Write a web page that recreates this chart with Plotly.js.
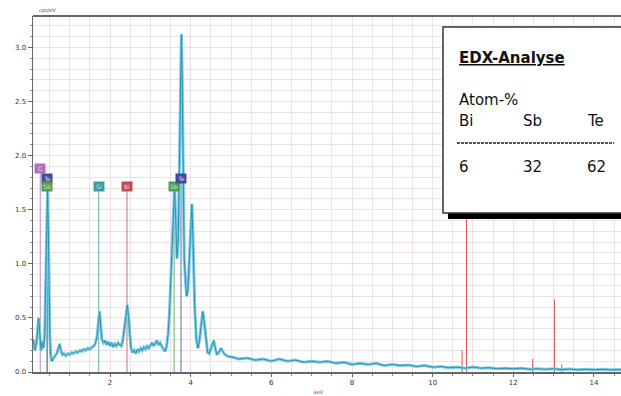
<!DOCTYPE html>
<html><head><meta charset="utf-8">
<script src="https://cdn.plot.ly/plotly-3.0.1.min.js"></script>
<style>html,body{margin:0;padding:0;background:#fff}#chart{width:621px;height:396px}</style>
</head><body><div id="chart"></div>
<script>
// Spectrum (keV, cps/eV)
const energy = [0.10,0.14,0.18,0.20,0.23,0.26,0.29,0.32,0.35,0.38,0.41,0.43,0.45,0.47,0.49,0.51,0.53,0.56,0.60,0.64,0.68,0.72,0.75,0.78,0.82,0.86,0.90,0.95,1.00,
1.05,1.10,1.15,1.20,1.25,1.30,1.35,1.40,1.45,1.50,1.55,1.60,1.64,1.68,1.71,1.74,1.77,1.80,1.84,1.88,1.92,1.96,2.00,2.04,2.08,2.12,2.16,2.20,2.24,2.28,2.32,2.36,2.40,2.43,2.46,2.49,2.52,2.56,2.60,2.64,2.68,2.72,2.76,2.80,2.84,2.88,2.92,2.96,3.00,3.04,3.08,3.12,3.16,3.20,3.24,3.28,3.32,3.36,3.40,3.44,3.48,3.52,3.56,3.60,3.63,3.66,3.69,3.72,3.75,3.77,3.79,3.82,3.84,3.87,3.90,3.93,3.96,4.00,4.03,4.06,4.10,4.14,4.18,4.22,4.26,4.30,4.34,4.38,4.42,4.46,4.50,4.54,4.57,4.61,4.65,4.70,4.75,4.80,4.85,4.90,4.95,
5.0,5.2,5.4,5.6,5.8,6.0,6.2,6.4,6.6,6.8,7.0,7.2,7.4,7.6,7.8,8.0,8.2,8.4,8.6,8.8,9.0,9.2,9.4,9.6,9.8,10.0,10.2,10.4,10.6,10.8,11.0,11.2,11.4,11.6,11.8,12.0,12.2,12.4,12.6,12.8,13.0,13.2,13.4,13.6,13.8,14.0,14.2,14.4,14.6,14.7];
const counts = [0.30,0.20,0.28,0.40,0.50,0.35,0.20,0.28,0.22,0.35,0.90,1.45,1.68,1.30,0.60,0.30,0.15,0.10,0.13,0.15,0.17,0.22,0.26,0.20,0.16,0.17,0.15,0.17,0.16,
0.18,0.17,0.19,0.18,0.20,0.19,0.21,0.20,0.22,0.21,0.23,0.24,0.27,0.33,0.45,0.56,0.42,0.30,0.27,0.29,0.25,0.28,0.24,0.27,0.23,0.26,0.24,0.27,0.25,0.24,0.30,0.42,0.58,0.62,0.50,0.35,0.22,0.18,0.20,0.17,0.21,0.19,0.22,0.20,0.23,0.21,0.24,0.22,0.25,0.27,0.24,0.26,0.29,0.25,0.27,0.24,0.21,0.19,0.23,0.35,0.60,1.00,1.45,1.72,1.40,1.05,1.20,2.10,2.90,3.12,2.70,1.60,1.05,0.85,0.70,0.75,1.00,1.40,1.55,1.20,0.60,0.30,0.22,0.30,0.45,0.56,0.45,0.28,0.18,0.17,0.22,0.27,0.29,0.22,0.16,0.18,0.22,0.19,0.16,0.15,0.14,
0.14,0.12,0.13,0.11,0.12,0.10,0.12,0.10,0.11,0.09,0.10,0.09,0.10,0.08,0.09,0.07,0.08,0.07,0.08,0.06,0.07,0.06,0.065,0.05,0.06,0.045,0.05,0.04,0.045,0.035,0.045,0.035,0.04,0.03,0.035,0.03,0.035,0.025,0.03,0.025,0.03,0.022,0.028,0.02,0.025,0.02,0.025,0.02,0.022,0.02];

// Element line markers
const lineEnergies = [0.27, 0.44, 0.44, 1.72, 2.42, 3.59, 3.76];
const lineTops     = [1.88, 1.79, 1.71, 1.71, 1.71, 1.71, 1.79];
const lineLabels   = ['C', 'Te', 'Sb', 'Si', 'Bi', 'Sb', 'Te'];
const lineColors   = ['#b46fc0', '#3f4a9a', '#4f9f4a', '#3a9e9e', '#c84848', '#4f9f4a', '#3f4a9a'];

// Bi L lines (red)
const biLEnergies = [10.73, 10.84, 12.48, 13.02, 13.20];
const biLHeights  = [0.20, 1.60, 0.12, 0.67, 0.07];

// EDX result table
const elements = ['Bi', 'Sb', 'Te'];
const atomPercent = [6, 32, 62];

const traces = [];
lineEnergies.forEach((e, i) => {
  traces.push({x: [e, e], y: [0, lineTops[i]], mode: 'lines', type: 'scatter',
    line: {color: lineColors[i], width: 1}, hoverinfo: 'skip', showlegend: false, opacity: 0.8});
});
biLEnergies.forEach((e, i) => {
  traces.push({x: [e, e], y: [0, biLHeights[i]], mode: 'lines', type: 'scatter',
    line: {color: '#e05050', width: 1}, hoverinfo: 'skip', showlegend: false});
});
traces.push({x: energy, y: counts, mode: 'lines', type: 'scatter',
  line: {color: '#7ccbe4', width: 3}, showlegend: false});
traces.push({x: energy, y: counts, mode: 'lines', type: 'scatter',
  line: {color: '#2a93b5', width: 1}, showlegend: false});

const L = 33, PW = 588, T = 16, PH = 356;
const px = v => (v - L) / PW;
const py = v => (T + PH - v) / PH;

const annotations = lineEnergies.map((e, i) => ({
  x: e, y: lineTops[i], xref: 'x', yref: 'y', text: lineLabels[i], showarrow: false,
  bgcolor: lineColors[i], width: 10, height: 9, borderpad: 0,
  font: {size: 6, color: '#dde', family: 'DejaVu Sans'}
}));

const tfont = {family: 'DejaVu Sans, Arial', size: 15, color: '#111'};
annotations.push({x: px(457), y: py(58), xref: 'paper', yref: 'paper', xanchor: 'left', yanchor: 'middle',
  text: '<b><u>EDX-Analyse</u></b>', showarrow: false, font: tfont});
annotations.push({x: px(457), y: py(100), xref: 'paper', yref: 'paper', xanchor: 'left', yanchor: 'middle',
  text: 'Atom-%', showarrow: false, font: tfont});
const colX = [457, 521, 585];
elements.forEach((el, i) => {
  annotations.push({x: px(colX[i]), y: py(121), xref: 'paper', yref: 'paper', xanchor: 'left', yanchor: 'middle',
    text: el, showarrow: false, font: tfont});
  annotations.push({x: px(colX[i]), y: py(167), xref: 'paper', yref: 'paper', xanchor: 'left', yanchor: 'middle',
    text: String(atomPercent[i]), showarrow: false, font: tfont});
});
annotations.push({x: px(37), y: py(11), xref: 'paper', yref: 'paper', xanchor: 'left', yanchor: 'middle',
  text: 'cps/eV', showarrow: false, font: {family: 'DejaVu Sans', size: 5, color: '#444'}});
annotations.push({x: px(319), y: py(392), xref: 'paper', yref: 'paper', xanchor: 'center', yanchor: 'middle',
  text: 'keV', showarrow: false, font: {family: 'DejaVu Sans', size: 5, color: '#444'}});

const shapes = [
  {type: 'line', xref: 'paper', yref: 'paper', x0: 0, x1: 1, y0: 1, y1: 1, line: {color: '#666', width: 2}},
  {type: 'rect', xref: 'paper', yref: 'paper', x0: px(448), x1: px(640), y0: py(219), y1: py(32),
    fillcolor: '#000', line: {width: 0}},
  {type: 'rect', xref: 'paper', yref: 'paper', x0: px(443), x1: px(640), y0: py(213), y1: py(27),
    fillcolor: '#fff', line: {color: '#333', width: 1.5}},
  {type: 'line', xref: 'paper', yref: 'paper', x0: px(457), x1: px(614), y0: py(143), y1: py(143),
    line: {color: '#222', width: 1.5, dash: '3px,1px'}}
];

const grid = '#ebe1e6';
const layout = {
  width: 621, height: 396,
  margin: {l: L, r: 0, t: T, b: 24},
  paper_bgcolor: '#fff', plot_bgcolor: '#fff',
  showlegend: false,
  xaxis: {range: [0.09, 14.67], dtick: 2, tick0: 0, showgrid: true, gridcolor: grid, gridwidth: 1,
    zeroline: false, showline: true, linecolor: '#666', linewidth: 1.5,
    ticks: 'outside', ticklen: 3, tickcolor: '#666',
    tickfont: {family: 'DejaVu Sans', size: 7, color: '#333'},
    minor: {dtick: 0.5, showgrid: true, gridcolor: grid, gridwidth: 1, ticks: 'outside', ticklen: 2, tickcolor: '#888'}},
  yaxis: {range: [0, 3.29], dtick: 0.5, tick0: 0, tickformat: '.1f', showgrid: true, gridcolor: grid, gridwidth: 1,
    zeroline: false, showline: true, linecolor: '#666', linewidth: 1.5,
    ticks: 'outside', ticklen: 4, tickcolor: '#666',
    tickfont: {family: 'DejaVu Sans', size: 7, color: '#333'},
    minor: {dtick: 0.1, showgrid: true, gridcolor: grid, gridwidth: 1, ticks: 'outside', ticklen: 2, tickcolor: '#888'}},
  annotations: annotations,
  shapes: shapes
};

Plotly.newPlot('chart', traces, layout, {displayModeBar: false, staticPlot: true});
</script>
</body></html>
